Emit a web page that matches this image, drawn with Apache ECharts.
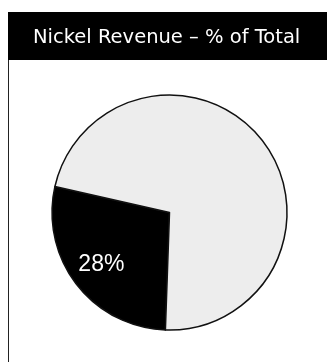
<!DOCTYPE html>
<html>
<head>
<meta charset="utf-8">
<script src="https://cdn.jsdelivr.net/npm/echarts@6/dist/echarts.min.js"></script>
<style>
  html, body { margin: 0; padding: 0; background: #fff; }
  #chart { width: 327px; height: 362px; }
</style>
</head>
<body>
<div id="chart"></div>
<script>
// Revenue share data
const titleText = 'Nickel Revenue \u2013 % of Total';
const segmentNames = ['Nickel', 'Other'];
const segmentValues = [28, 72];
const segmentColors = ['#000000', '#ededed'];

const chart = echarts.init(document.getElementById('chart'), null, { renderer: 'canvas' });

const pieData = segmentNames.map((name, i) => ({
  name: name,
  value: segmentValues[i],
  itemStyle: { color: segmentColors[i] }
}));

// Label ring: transparent copy of the data, used only to place the percentage text
const labelData = segmentNames.map((name, i) => ({
  name: name,
  value: segmentValues[i],
  label: { show: i === 0 }
}));

chart.setOption({
  animation: false,
  backgroundColor: '#ffffff',
  title: {
    text: titleText,
    left: 28,
    top: 23,
    textStyle: {
      color: '#ffffff',
      fontFamily: 'DejaVu Sans',
      fontWeight: 'normal',
      fontSize: 19.5
    }
  },
  graphic: [
    { type: 'rect', z: -1, shape: { x: 8, y: 12, width: 319, height: 48 }, style: { fill: '#000' } },
    { type: 'line', shape: { x1: 8.5, y1: 60, x2: 8.5, y2: 362 }, style: { stroke: '#222', lineWidth: 1 } }
  ],
  series: [
    {
      type: 'pie',
      center: [169.5, 212.5],
      radius: [0, 117.5],
      startAngle: 268,
      clockwise: true,
      silent: true,
      label: { show: false },
      labelLine: { show: false },
      itemStyle: { borderColor: '#111', borderWidth: 1.5 },
      data: pieData
    },
    {
      type: 'pie',
      center: [169.5, 212.5],
      radius: [48.5, 117.5],
      startAngle: 268,
      clockwise: true,
      silent: true,
      itemStyle: { color: 'rgba(0,0,0,0)', borderWidth: 0 },
      labelLine: { show: false },
      label: {
        show: false,
        position: 'inside',
        formatter: '{c}%',
        color: '#ffffff',
        fontFamily: 'Liberation Sans',
        fontSize: 23
      },
      data: labelData
    }
  ]
});
</script>
</body>
</html>
